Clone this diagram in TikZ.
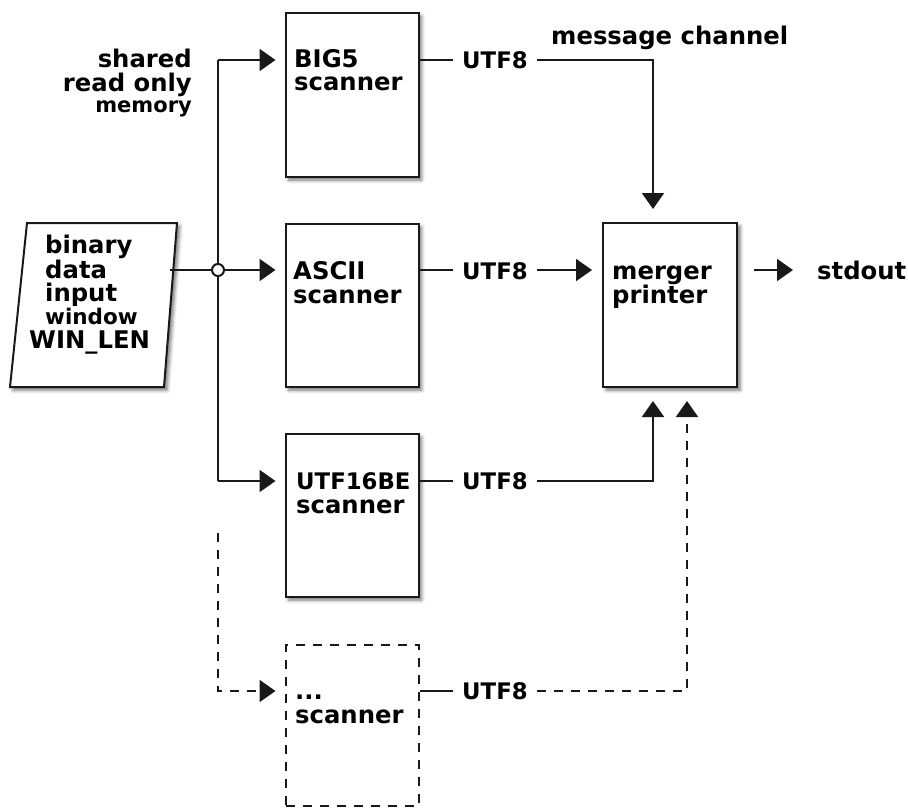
\documentclass[tikz,border=0pt]{standalone}
\usepackage{fontspec}
\setmainfont{DejaVu Sans}
\usetikzlibrary{arrows.meta,shadows.blur}
\begin{document}
\begin{tikzpicture}[x=1pt,y=-1pt,
  ln/.style={line width=2pt, draw=black!90},
  arr/.style={ln, -{Triangle[length=16pt,width=22pt]}},
  dsh/.style={dash pattern=on 9pt off 8pt},
  shd/.style={blur shadow={shadow xshift=3pt, shadow yshift=-3pt, shadow blur radius=3.5pt, shadow opacity=55}},
  blk/.style={draw=black!90, line width=2pt, fill=white, inner sep=0pt, shd},
  dblk/.style={draw=black!90, line width=2pt, fill=white, inner sep=0pt, dsh},
  txt/.style={font={\bfseries\fontsize{24.3}{24}\selectfont}, inner sep=0pt, align=left, anchor=base west},
  rtxt/.style={font={\bfseries\fontsize{24.3}{24}\selectfont}, inner sep=0pt, align=right, anchor=base east},
  utxt/.style={font={\bfseries\fontsize{22.8}{24}\selectfont}, inner sep=0pt, anchor=base west},
  jn/.style={circle, draw=black!90, line width=2pt, fill=white, minimum size=12pt, inner sep=0pt},
]
\useasboundingbox (0,0) rectangle (908,808);

% parallelogram input
\draw[ln, fill=white, shd] (27,223) -- (177,223) -- (164,387) -- (10,387) -- cycle;
\node[txt, font={\bfseries\fontsize{24.3}{23.3}\selectfont}] (bin) at (45,348)
  {binary\\data\\input\\{\fontsize{21.5}{23.3}\selectfont window}\\\hspace*{-16pt}WIN\_LEN};

% boxes
\node[blk, minimum width=133pt, minimum height=164pt] (big5) at (352,95) {};
\node[blk, minimum width=133pt, minimum height=163pt] (ascii) at (352,305.5) {};
\node[blk, minimum width=133pt, minimum height=163pt] (utf) at (352,515.5) {};
\node[dblk, minimum width=133pt, minimum height=161pt] (dots) at (352,725.5) {};
\node[blk, minimum width=134pt, minimum height=164pt] (merger) at (670,305) {};

\node[txt] (big5t) at (294,91) {BIG5\\scanner};
\node[txt] (asciit) at (293,303) {ASCII\\scanner};
\node[txt] (utft) at (296,513) {{\fontsize{22.8}{24}\selectfont UTF16BE}\\scanner};
\node[txt] (dotst) at (295,723) {...\\scanner};
\node[txt] (mergert) at (612,303) {merger\\printer};

% labels
\node[rtxt] (shared) at (192,92) {shared\\read only};
\node[rtxt, font={\bfseries\fontsize{21}{21}\selectfont}] (memory) at (192,113) {memory};
\node[txt] (msg) at (551,45) {message channel};
\node[txt] (stdout) at (817,279) {stdout};

\node[utxt] (u1) at (462,68.5) {UTF8};
\node[utxt] (u2) at (462,279) {UTF8};
\node[utxt] (u3) at (462,489.5) {UTF8};
\node[utxt] (u4) at (462,699.5) {UTF8};

% coordinates
\coordinate (in0) at (170,270);
\coordinate (vtop) at (218,60);
\coordinate (vbot) at (218,481);
\coordinate (dtop) at (218,533);
\coordinate (dbot) at (218,691);
\coordinate (m1) at (653,60);
\coordinate (m2) at (687,691);

% distribution
\draw[ln] (vtop) -- (vbot);
\node[jn] (j) at (218,270) {};
\draw[ln] (in0) -- (j);
\draw[arr, shorten >=9pt] (vtop) -- (vtop -| big5.west);
\draw[arr, shorten >=9pt] (j) -- (j -| ascii.west);
\draw[arr, shorten >=9pt] (vbot) -- (vbot -| utf.west);
\draw[arr, dsh, shorten >=9pt] (dtop) -- (dbot) -- (dbot -| dots.west);

% message channels
\draw[ln, shorten >=9pt] (vtop -| big5.east) -- (vtop -| u1.west);
\draw[arr, shorten <=9pt, shorten >=13pt] (vtop -| u1.east) -- (m1) -- (m1 |- merger.north);
\draw[ln, shorten >=9pt] (j -| ascii.east) -- (j -| u2.west);
\draw[arr, shorten <=9pt, shorten >=10pt] (j -| u2.east) -- (j -| merger.west);
\draw[ln, shorten >=9pt] (vbot -| utf.east) -- (vbot -| u3.west);
\draw[arr, shorten <=9pt, shorten >=13pt] (vbot -| u3.east) -- (m1 |- vbot) -- (m1 |- merger.south);
\draw[ln, shorten >=9pt] (dbot -| dots.east) -- (dbot -| u4.west);
\draw[arr, dsh, shorten <=9pt, shorten >=13pt] (dbot -| u4.east) -- (m2) -- (m2 |- merger.south);

% output
\draw[arr, shorten <=16pt, shorten >=24pt] (j -| merger.east) -- (j -| stdout.west);
\end{tikzpicture}
\end{document}
